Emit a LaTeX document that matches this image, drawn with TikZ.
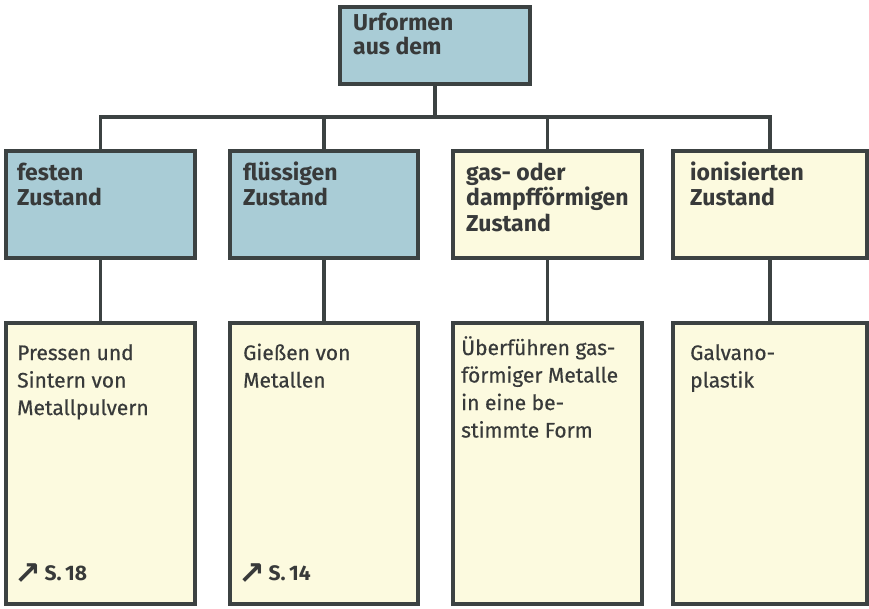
\documentclass[tikz,border=0pt]{standalone}
\usepackage{fontspec}
\setmainfont{Fira Sans}
\newfontfamily\bodyfont[FakeBold=0.5]{Fira Sans}
\newfontfamily\arrowfont{DejaVu Sans}
\definecolor{lineC}{HTML}{3C4242}
\definecolor{txtC}{HTML}{383A3A}
\definecolor{blueC}{HTML}{A9CCD6}
\definecolor{yelC}{HTML}{FCFADF}
\tikzset{
  boxA/.style={draw=lineC, line width=3.2pt, fill=blueC, rectangle, inner sep=0pt},
  boxB/.style={draw=lineC, line width=3.2pt, fill=yelC, rectangle, inner sep=0pt},
  head/.style={anchor=base west, inner sep=0pt, text=txtC, font=\fontsize{23}{25.5}\selectfont\bfseries},
  body/.style={anchor=base west, inner sep=0pt, text=txtC, font=\bodyfont\fontsize{21}{27.5}\selectfont},
  conn/.style={draw=lineC, line width=3.2pt}
}
\newcommand{\tbox}[1]{\parbox[t]{220pt}{\raggedright #1}}
\newcommand{\refarrow}{\raisebox{-4pt}{\arrowfont\fontsize{32}{32}\selectfont ↗}}
\begin{document}
\begin{tikzpicture}[x=1pt,y=-1pt]
\useasboundingbox (0,0) rectangle (869,608);
% top
\node[boxA, minimum width=190pt, minimum height=77pt] (u) at (435,45.5) {};
\node[head, font=\fontsize{23}{24}\selectfont\bfseries] (ut) at (353,30) {\tbox{Urformen\\aus dem}};
% row 2
\node[boxA, minimum width=189pt, minimum height=107pt] (b1) at (100.5,204.5) {};
\node[boxA, minimum width=188pt, minimum height=107pt] (b2) at (324,204.5) {};
\node[boxB, minimum width=189pt, minimum height=107pt] (b3) at (547.5,204.5) {};
\node[boxB, minimum width=194pt, minimum height=107pt] (b4) at (770,204.5) {};
\node[head] (t1) at (17,180) {\tbox{festen\\Zustand}};
\node[head] (t2) at (243,180) {\tbox{flüssigen\\Zustand}};
\node[head] (t3) at (466,180) {\tbox{gas- oder\\dampfförmigen\\Zustand}};
\node[head] (t4) at (690,180) {\tbox{ionisierten\\Zustand}};
% row 3
\node[boxB, minimum width=189pt, minimum height=281pt] (c1) at (100.5,463.5) {};
\node[boxB, minimum width=188pt, minimum height=281pt] (c2) at (324,463.5) {};
\node[boxB, minimum width=189pt, minimum height=281pt] (c3) at (547.5,463.5) {};
\node[boxB, minimum width=194pt, minimum height=281pt] (c4) at (770,463.5) {};
\node[body] (d1) at (17,360) {\tbox{Pressen und\\Sintern von\\Metallpulvern}};
\node[body] (d2) at (243,360) {\tbox{Gießen von\\Metallen}};
\node[body] (d3) at (461,355) {\tbox{Überführen gas-\\förmiger Metalle\\in eine be-\\stimmte Form}};
\node[body] (d4) at (690,360) {\tbox{Galvano-\\plastik}};
\node[body, font=\fontsize{21}{22}\selectfont\bfseries] (r1) at (14,580) {\refarrow\,S.\,18};
\node[body, font=\fontsize{21}{22}\selectfont\bfseries] (r2) at (238,580) {\refarrow\,S.\,14};
% connectors
\coordinate (bar) at (435,117);
\draw[conn] (u.south) -- (bar);
\draw[conn] (b1.north) |- (bar) -| (b4.north);
\draw[conn] (b2.north) -- (b2.north |- bar);
\draw[conn] (b3.north) -- (b3.north |- bar);
\draw[conn] (b1.south) -- (c1.north);
\draw[conn] (b2.south) -- (c2.north);
\draw[conn] (b3.south) -- (c3.north);
\draw[conn] (b4.south) -- (c4.north);
\end{tikzpicture}
\end{document}
